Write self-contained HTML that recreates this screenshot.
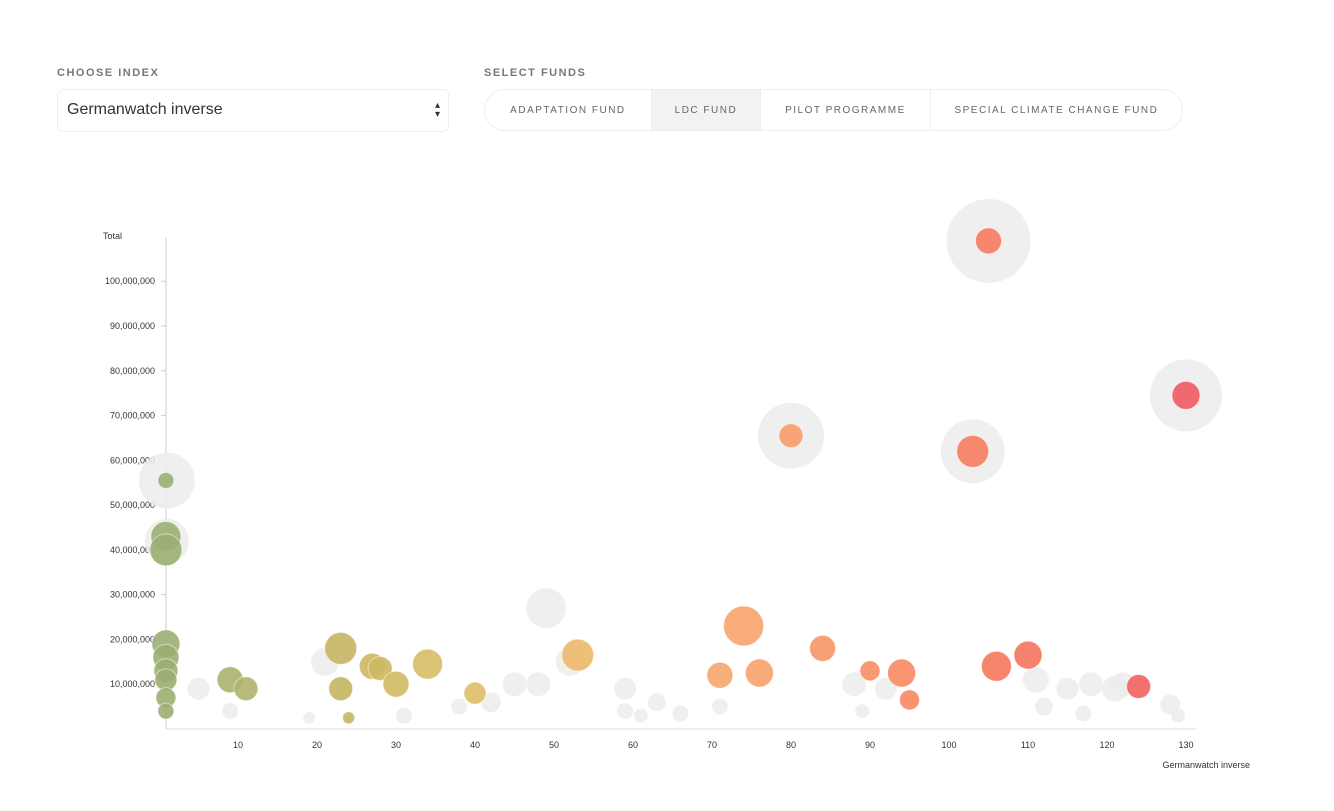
<!DOCTYPE html>
<html><head><meta charset="utf-8"><style>
body{margin:0;width:1334px;height:811px;background:#fff;font-family:"Liberation Sans",sans-serif;overflow:hidden;position:relative}
.lbl{position:absolute;font-size:11px;font-weight:bold;letter-spacing:1.5px;color:#777}
.sel{position:absolute;left:57px;top:89px;width:392px;height:43px;border:1px solid #eee;border-radius:6px;box-sizing:border-box;font-size:16px;color:#333;padding:11px 9px}
.grp{position:absolute;left:484px;top:89px;width:699px;height:42px;border:1px solid #eee;border-radius:21px;box-sizing:border-box;display:flex;overflow:hidden}
.grp div{font-size:10px;letter-spacing:1.5px;color:#666;display:flex;align-items:center;justify-content:center;border-right:1px solid #eee}
</style></head><body>
<div class="lbl" style="left:57px;top:67px">CHOOSE INDEX</div>
<div class="sel">Germanwatch inverse<span style="position:absolute;right:8px;top:11px;font-size:10px;line-height:9px">▴<br>▾</span></div>
<div class="lbl" style="left:484px;top:67px">SELECT FUNDS</div>
<div class="grp">
<div style="width:167px">ADAPTATION FUND</div>
<div style="width:109px;background:#f2f2f2">LDC FUND</div>
<div style="width:170px">PILOT PROGRAMME</div>
<div style="width:253px;border-right:none">SPECIAL CLIMATE CHANGE FUND</div>
</div>
<svg id="chart" width="1334" height="811" style="position:absolute;left:0;top:0"></svg>
<script>
const yTicks=[10,20,30,40,50,60,70,80,90,100];
const xTicks=[10,20,30,40,50,60,70,80,90,100,110,120,130];
const ghostX=[1,1,49,21,5,9,19,31,38,42,45,48,52,59,59,61,63,66,71,88,89,92,111,112,115,117,118,121,122,128,129,80,103,105,130];
const ghostY=[55.5,42,27,15,9,4,2.5,3,5,6,10,10,15,9,4,3,6,3.5,5,10,4,9,11,5,9,3.5,10,9,10,5.5,3,65.5,62,109,74.5];
const ghostR=[28,22,20,14,11,8,6,8,8,10,12,12,14,11,8,7,9,8,8,12,7,11,13,9,11,8,12,13,12,10,7,33,32,42,36];
const ptX=[1,1,1,1,1,1,1,1,1,9,11,23,23,24,27,28,30,34,40,53,74,71,76,84,90,94,95,80,103,105,106,110,124,130];
const ptY=[55.5,43,40,19,16,13,11,7,4,11,9,18,9,2.5,14,13.5,10,14.5,8,16.5,23,12,12.5,18,13,12.5,6.5,65.5,62,109,14,16.5,9.5,74.5];
const ptR=[8,15,16,14,13,12,11,10,8,13,12,16,12,6,13,12,13,15,11,16,20,13,14,13,10,14,10,12,16,13,15,14,12,14];
const NS='http://www.w3.org/2000/svg';
const svg=document.getElementById('chart');
const x=v=>159+7.9*v, y=v=>729-4.478*v;
function mk(t,a){const e=document.createElementNS(NS,t);for(const k in a)e.setAttribute(k,a[k]);svg.appendChild(e);return e;}
function col(v){const st=[[0,[154,174,116]],[25,[201,182,97]],[45,[232,192,106]],[75,[247,162,106]],[100,[247,128,94]],[130,[239,90,95]]];
for(let i=1;i<st.length;i++){if(v<=st[i][0]){const a=st[i-1],b=st[i],t=(v-a[0])/(b[0]-a[0]);return 'rgb('+a[1].map((c,j)=>Math.round(c+(b[1][j]-c)*t)).join(',')+')';}}return 'rgb(239,90,95)';}
let e=mk('line',{x1:166,y1:238,x2:166,y2:729,stroke:'#ccc'});


e=mk('line',{x1:166,y1:729,x2:1196,y2:729,stroke:'#ddd'});


e=mk('text',{x:103,y:239,'font-size':9,fill:'#333'});e.textContent='Total';


e=mk('text',{x:1250,y:768,'font-size':9,fill:'#333','text-anchor':'end'});e.textContent='Germanwatch inverse';


yTicks.forEach(v=>{e=mk('text',{x:155,y:y(v)+3,'font-size':9,fill:'#333','text-anchor':'end'});e.textContent=(v*1e6).toLocaleString('en-US');


mk('line',{x1:161,x2:166,y1:y(v),y2:y(v),stroke:'#ccc'});});
xTicks.forEach(v=>{e=mk('text',{x:x(v),y:748,'font-size':9,fill:'#333','text-anchor':'middle'});e.textContent=v;

});
ghostX.forEach((v,i)=>{e=mk('circle',{cx:x(v),cy:y(ghostY[i]),r:ghostR[i],fill:'#ececec','fill-opacity':0.85});

});
ptX.forEach((v,i)=>{e=mk('circle',{cx:x(v)+(v===1?-1:0),cy:y(ptY[i]),r:ptR[i],fill:col(v),'fill-opacity':0.9,stroke:'#fff','stroke-opacity':0.5});

});
</script>
</body></html>
